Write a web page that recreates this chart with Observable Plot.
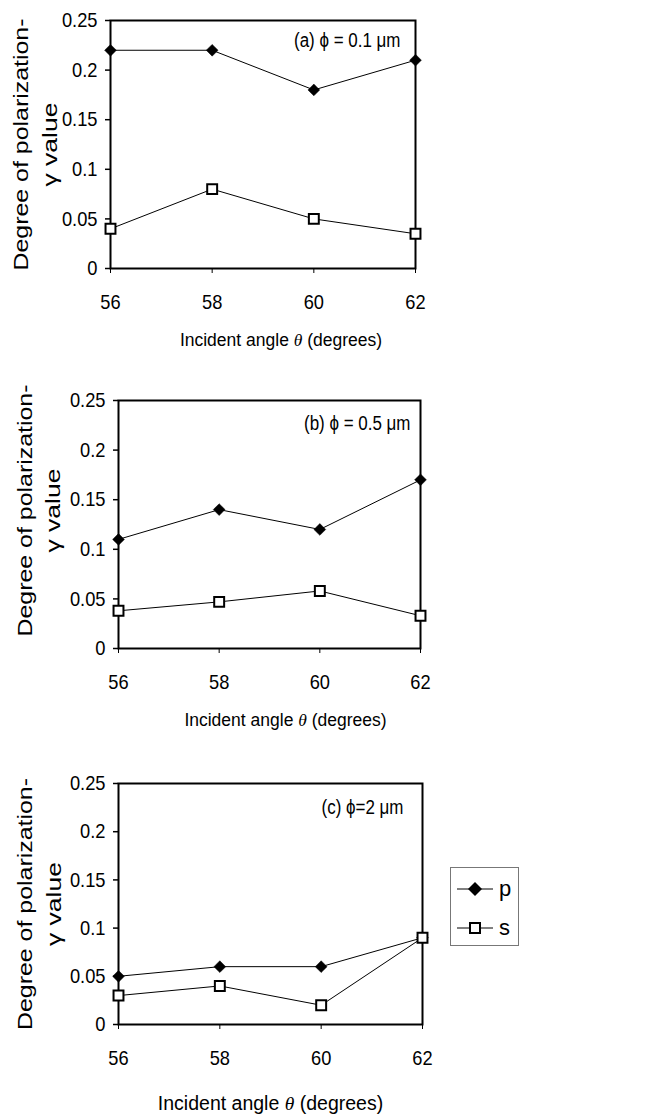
<!DOCTYPE html>
<html>
<head>
<meta charset="utf-8">
<script src="https://cdn.jsdelivr.net/npm/d3@7"></script>
<script src="https://cdn.jsdelivr.net/npm/@observablehq/plot@0.6"></script>
<style>
  html, body { margin: 0; padding: 0; background: #fff; }
  body { width: 651px; height: 1117px; position: relative; overflow: hidden;
         font-family: "Liberation Sans", Arial, Helvetica, sans-serif; }
  .panel { position: absolute; left: 0; }
  #legend { position: absolute; left: 450px; top: 867px; }
</style>
</head>
<body>
<div id="pa" class="panel" style="top:0px"></div>
<div id="pb" class="panel" style="top:360px"></div>
<div id="pc" class="panel" style="top:740px"></div>
<div id="legend"></div>
<script>
// ---- data ----
const angles = [56, 58, 60, 62];
const pA = [0.22, 0.22, 0.18, 0.21];
const sA = [0.04, 0.08, 0.05, 0.035];
const pB = [0.11, 0.14, 0.12, 0.17];
const sB = [0.038, 0.047, 0.058, 0.033];
const pC = [0.05, 0.06, 0.06, 0.09];
const sC = [0.03, 0.04, 0.02, 0.09];
const panelLabels = ["(a) \u03D5 = 0.1 \u03BCm", "(b) \u03D5 = 0.5 \u03BCm", "(c) \u03D5=2 \u03BCm"];
const yTicks = [0, 0.05, 0.1, 0.15, 0.2, 0.25];
const xTicks = [56, 58, 60, 62];
const seriesNames = ["p", "s"];
const yLabel1 = "Degree of polarization-";
const yLabel2 = "\u03B3 value";
const xLabel = "Incident angle \u03B8 (degrees)";

const FONT = '"Liberation Sans", Arial, Helvetica, sans-serif';
const SQUEEZE = 0.87; // the scanned original has slightly narrow glyphs

function rows(p, s) {
  return {
    p: angles.map((a, i) => ({angle: a, value: p[i]})),
    s: angles.map((a, i) => ({angle: a, value: s[i]}))
  };
}

function panel(cfg) {
  const d = rows(cfg.p, cfg.s);
  return Plot.plot({
    width: 651,
    height: cfg.height,
    marginLeft: cfg.left,
    marginRight: 651 - cfg.right,
    marginTop: cfg.top,
    marginBottom: cfg.height - cfg.bottom,
    style: {fontFamily: FONT, fontSize: "21px", color: "black", background: "transparent", overflow: "visible"},
    x: {domain: [56, 62]},
    y: {domain: [0, 0.25]},
    marks: [
      Plot.frame({stroke: "black", strokeWidth: 2}),
      Plot.axisY({ticks: yTicks, tickFormat: v => String(v), tickSize: 5, tickPadding: 8, fontSize: 21, label: null, stroke: "black", strokeWidth: 1.5}),
      Plot.axisX({ticks: xTicks, tickFormat: v => String(v), tickSize: 5, tickPadding: 21, fontSize: 21, label: null, stroke: "black", strokeWidth: 1}),
      Plot.line(d.p, {x: "angle", y: "value", stroke: "black", strokeWidth: 1}),
      Plot.line(d.s, {x: "angle", y: "value", stroke: "black", strokeWidth: 1}),
      Plot.dot(d.p, {x: "angle", y: "value", symbol: "diamond2", r: 5.3, fill: "black", stroke: "black", strokeWidth: 0.5}),
      Plot.dot(d.s, {x: "angle", y: "value", symbol: "square", r: 5.6, fill: "white", stroke: "black", strokeWidth: 2}),
      Plot.text([cfg.label], {text: d => d, frameAnchor: "top-right", textAnchor: "end", lineAnchor: "middle", dx: cfg.ldx, dy: cfg.ldy, fontSize: 19.5, fill: "black"}),
      Plot.text([yLabel1], {text: d => d, frameAnchor: "left", rotate: -90, textAnchor: "middle", lineAnchor: "middle", dx: cfg.y1 - cfg.left, dy: cfg.ydy, fontSize: 20, fill: "black"}),
      Plot.text([yLabel2], {text: d => d, frameAnchor: "left", rotate: -90, textAnchor: "middle", lineAnchor: "middle", dx: cfg.y2 - cfg.left, dy: cfg.ydy, fontSize: 20, fill: "black"}),
      Plot.text([xLabel], {text: d => d, frameAnchor: "bottom", textAnchor: "middle", lineAnchor: "middle", dy: cfg.xl, dx: cfg.xdx, fontSize: cfg.xfs, fill: "black"})
    ]
  });
}

document.getElementById("pa").append(panel({p: pA, s: sA, label: panelLabels[0], height: 360, left: 110, right: 415, top: 20, bottom: 268, ldx: -15, ldy: 20, y1: 21, y2: 50, ydy: 0, xl: 72, xdx: 18, xfs: 17.5}));
document.getElementById("pb").append(panel({p: pB, s: sB, label: panelLabels[1], height: 370, left: 118, right: 420, top: 40, bottom: 288, ldx: -10, ldy: 23, y1: 25, y2: 53, ydy: -14, xl: 72, xdx: 16, xfs: 17.5}));
document.getElementById("pc").append(panel({p: pC, s: sC, label: panelLabels[2], height: 377, left: 118, right: 422, top: 43, bottom: 284, ldx: -19, ldy: 24, y1: 25, y2: 54, ydy: 0, xl: 79, xdx: 0, xfs: 19.5}));

// styling touches: italic theta, glyph aspect like the scanned original
document.querySelectorAll("#pa svg text, #pb svg text, #pc svg text").forEach(t => {
  const content = t.textContent;
  if (content === yLabel1) {
    t.setAttribute("textLength", 252); t.setAttribute("lengthAdjust", "spacingAndGlyphs");
    return;
  }
  if (content === yLabel2) {
    t.setAttribute("textLength", 84); t.setAttribute("lengthAdjust", "spacingAndGlyphs");
    return;
  }
  if (content === xLabel) {
    const [a, b] = xLabel.split("\u03B8");
    t.textContent = "";
    const ns = "http://www.w3.org/2000/svg";
    const t1 = document.createElementNS(ns, "tspan"); t1.textContent = a;
    const t2 = document.createElementNS(ns, "tspan"); t2.textContent = "\u03B8";
    t2.setAttribute("font-style", "italic"); t2.setAttribute("font-family", '"Liberation Serif", "Times New Roman", serif');
    const t3 = document.createElementNS(ns, "tspan"); t3.textContent = b;
    t.append(t1, t2, t3);
    return;
  }
  const spans = t.querySelectorAll("tspan");
  const targets = spans.length ? Array.from(spans) : [t];
  targets.forEach(el => {
    const len = el.getComputedTextLength();
    if (len > 0) { el.setAttribute("textLength", (len * SQUEEZE).toFixed(1)); el.setAttribute("lengthAdjust", "spacingAndGlyphs"); }
  });
});

// legend
(function () {
  const svg = d3.create("svg").attr("width", 70).attr("height", 80)
    .style("font-family", FONT).style("overflow", "visible");
  svg.append("rect").attr("x", 0.5).attr("y", 0.5).attr("width", 68).attr("height", 78)
    .attr("fill", "white").attr("stroke", "#777").attr("stroke-width", 1);
  const rowsY = [22, 61];
  seriesNames.forEach((name, i) => {
    const g = svg.append("g").attr("transform", `translate(0,${rowsY[i]})`);
    g.append("line").attr("x1", 7).attr("x2", 43).attr("y1", 0).attr("y2", 0).attr("stroke", "black");
    if (i === 0) {
      g.append("path").attr("d", "M25,-7L32,0L25,7L18,0Z").attr("fill", "black");
    } else {
      g.append("rect").attr("x", 20).attr("y", -5).attr("width", 10).attr("height", 10)
        .attr("fill", "white").attr("stroke", "black").attr("stroke-width", 2);
    }
    g.append("text").attr("x", 49).attr("y", 0).attr("dy", "0.32em").attr("font-size", 22).text(name);
  });
  document.getElementById("legend").append(svg.node());
})();
</script>
</body>
</html>
